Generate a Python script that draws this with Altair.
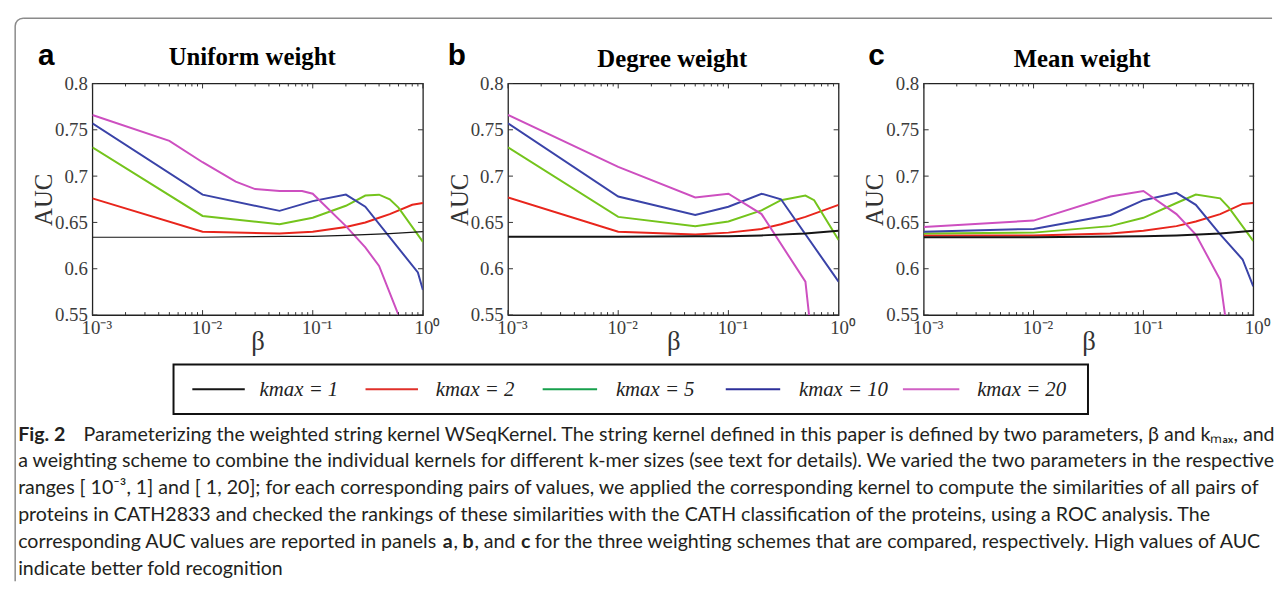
import altair as alt
import pandas as pd

SERIES = ["kmax = 1", "kmax = 2", "kmax = 5", "kmax = 10", "kmax = 20"]
LINE_COLORS = ["#151515", "#e8251c", "#74c41c", "#3a43a8", "#cd4fc0"]
LEGEND_COLORS = ["#151515", "#e0302a", "#17a04c", "#2c2f9a", "#d060c4"]

# ---- Panel a: Uniform weight ----
a_k1_beta = [0.001, 0.01, 0.05, 0.1, 0.2, 0.5, 1.0]
a_k1_auc = [0.634, 0.634, 0.635, 0.635, 0.636, 0.638, 0.640]
a_k2_beta = [0.001, 0.01, 0.05, 0.1, 0.2, 0.3, 0.4, 0.5, 0.8, 1.0]
a_k2_auc = [0.676, 0.640, 0.638, 0.640, 0.645, 0.650, 0.655, 0.659, 0.669, 0.671]
a_k5_beta = [0.001, 0.01, 0.05, 0.1, 0.2, 0.3, 0.4, 0.5, 0.6, 1.0]
a_k5_auc = [0.731, 0.657, 0.648, 0.655, 0.668, 0.679, 0.680, 0.675, 0.666, 0.629]
a_k10_beta = [0.001, 0.01, 0.05, 0.1, 0.2, 0.3, 0.9, 1.0]
a_k10_auc = [0.757, 0.680, 0.6625, 0.673, 0.680, 0.667, 0.596, 0.577]
a_k20_beta = [0.001, 0.005, 0.01, 0.02, 0.03, 0.05, 0.08, 0.1, 0.2, 0.3, 0.4, 0.7]
a_k20_auc = [0.766, 0.738, 0.715, 0.694, 0.686, 0.684, 0.684, 0.681, 0.646, 0.623, 0.603, 0.53]

# ---- Panel b: Degree weight ----
b_k1_beta = [0.001, 0.01, 0.05, 0.1, 0.2, 0.5, 1.0]
b_k1_auc = [0.6345, 0.6345, 0.635, 0.635, 0.636, 0.638, 0.641]
b_k2_beta = [0.001, 0.01, 0.05, 0.1, 0.2, 0.3, 0.5, 1.0]
b_k2_auc = [0.677, 0.640, 0.637, 0.639, 0.643, 0.648, 0.656, 0.669]
b_k5_beta = [0.001, 0.01, 0.05, 0.1, 0.2, 0.3, 0.5, 0.6, 1.0]
b_k5_auc = [0.731, 0.656, 0.646, 0.651, 0.663, 0.674, 0.679, 0.674, 0.631]
b_k10_beta = [0.001, 0.01, 0.05, 0.1, 0.2, 0.3, 1.0]
b_k10_auc = [0.757, 0.678, 0.658, 0.667, 0.681, 0.675, 0.586]
b_k20_beta = [0.001, 0.01, 0.05, 0.1, 0.2, 0.5, 0.6]
b_k20_auc = [0.766, 0.710, 0.677, 0.681, 0.659, 0.586, 0.50]

# ---- Panel c: Mean weight ----
c_k1_beta = [0.001, 0.01, 0.1, 0.2, 0.5, 1.0]
c_k1_auc = [0.634, 0.634, 0.635, 0.636, 0.638, 0.641]
c_k2_beta = [0.001, 0.01, 0.05, 0.1, 0.2, 0.3, 0.5, 0.8, 1.0]
c_k2_auc = [0.636, 0.636, 0.638, 0.641, 0.646, 0.651, 0.659, 0.670, 0.671]
c_k5_beta = [0.001, 0.01, 0.05, 0.1, 0.2, 0.3, 0.5, 0.6, 1.0]
c_k5_auc = [0.638, 0.639, 0.646, 0.655, 0.671, 0.680, 0.676, 0.666, 0.630]
c_k10_beta = [0.001, 0.01, 0.05, 0.1, 0.2, 0.3, 0.5, 0.8, 1.0]
c_k10_auc = [0.640, 0.643, 0.658, 0.674, 0.682, 0.669, 0.637, 0.610, 0.581]
c_k20_beta = [0.001, 0.01, 0.05, 0.1, 0.2, 0.3, 0.5, 0.6]
c_k20_auc = [0.645, 0.652, 0.678, 0.684, 0.659, 0.637, 0.588, 0.52]

X_MAJOR = [0.001, 0.01, 0.1, 1.0]
X_MINOR = [m * d for d in [0.001, 0.01, 0.1] for m in range(2, 10)]
Y_TICKS = [0.55, 0.6, 0.65, 0.7, 0.75, 0.8]

PANEL_TITLES = ["Uniform weight", "Degree weight", "Mean weight"]
PANEL_LETTERS = ["a", "b", "c"]

CAPTION_LINES = [
    "Parameterizing the weighted string kernel WSeqKernel. The string kernel defined in this paper is defined by two parameters, \u03b2 and k\u2098\u2090\u2093, and",
    "a weighting scheme to combine the individual kernels for different k-mer sizes (see text for details). We varied the two parameters in the respective",
    "ranges [ 10\u207b\u00b3, 1] and [ 1, 20]; for each corresponding pairs of values, we applied the corresponding kernel to compute the similarities of all pairs of",
    "proteins in CATH2833 and checked the rankings of these similarities with the CATH classification of the proteins, using a ROC analysis. The",
    "corresponding AUC values are reported in panels",
    "indicate better fold recognition",
]

W, H = 334, 234
SERIF = "Liberation Serif"
CAP_FONT = "Lato"
CAP_SIZE = 19.8
CAP_COLOR = "#231f20"
LABEL_COLOR = "#3c3c3c"


def panel_df(pairs):
    rows = []
    for s, (bs, ys) in zip(SERIES, pairs):
        for b, y in zip(bs, ys):
            rows.append({"beta": b, "auc": y, "series": s})
    return pd.DataFrame(rows)


def one():
    return pd.DataFrame({"z": [0]})


def text_layer(s, x, y, font, size, weight="normal", style="normal", align="left",
               baseline="alphabetic", color="#000000"):
    return alt.Chart(pd.DataFrame({"t": [s]})).mark_text(
        font=font, fontSize=size, fontWeight=weight, fontStyle=style, align=align,
        baseline=baseline, color=color
    ).encode(text="t:N", x=alt.value(x), y=alt.value(y))


def hrule(x1, x2, y, color, width):
    return alt.Chart(one()).mark_rule(color=color, strokeWidth=width).encode(
        x=alt.value(x1), x2=alt.value(x2), y=alt.value(y))


def vrule(x, y1, y2, color, width):
    return alt.Chart(one()).mark_rule(color=color, strokeWidth=width).encode(
        x=alt.value(x), y=alt.value(y1), y2=alt.value(y2))


xs = alt.Scale(type="log", domain=[0.001, 1], nice=False)
ys = alt.Scale(domain=[0.55, 0.8], nice=False, zero=False)
LABEL_EXPR = ("datum.value < 0.005 ? '10\u207b\u00b3' : datum.value < 0.05 ? '10\u207b\u00b2' : "
              "datum.value < 0.5 ? '10\u207b\u00b9' : '10\u2070'")
X_AXIS = alt.Axis(values=X_MAJOR, labelExpr=LABEL_EXPR, labelFlush=False,
                  labelOffset=4, labelPadding=4, titlePadding=-9,
                  labelFont=SERIF, labelFontSize=19, labelColor=LABEL_COLOR,
                  titleFont=SERIF, titleFontSize=27, titleFontWeight="normal",
                  titleColor="#333333", ticks=False, domain=False, grid=False)
Y_AXIS = alt.Axis(values=Y_TICKS, format="~g", labelPadding=5, titlePadding=-2,
                  labelFont=SERIF, labelFontSize=19, labelColor=LABEL_COLOR,
                  titleFont=SERIF, titleFontSize=25, titleFontWeight="normal",
                  titleColor="#333333", ticks=False, domain=False, grid=False)


def xenc(field):
    return alt.X(field, scale=xs, title="\u03b2", axis=X_AXIS)


def yenc(field):
    return alt.Y(field, scale=ys, title="AUC", axis=Y_AXIS)


def make_panel(df, idx, title_x, title_y, letter_x, black_width):
    colored = alt.Chart(df).transform_filter("datum.series != 'kmax = 1'").mark_line(
        clip=True, strokeWidth=2
    ).encode(
        x=xenc("beta:Q"), y=yenc("auc:Q"),
        color=alt.Color("series:N", scale=alt.Scale(domain=SERIES, range=LINE_COLORS), legend=None),
    )
    black = alt.Chart(df).transform_filter("datum.series == 'kmax = 1'").mark_line(
        clip=True, strokeWidth=black_width, color=LINE_COLORS[0]
    ).encode(x=xenc("beta:Q"), y=yenc("auc:Q"))

    layers = [colored, black]
    tick_color = "#333333"
    for vals, ln in [(X_MAJOR, 5), (X_MINOR, 3)]:
        d = pd.DataFrame({"beta": vals})
        layers.append(alt.Chart(d).mark_rule(color=tick_color, strokeWidth=1).encode(
            x=xenc("beta:Q"), y=alt.value(H), y2=alt.value(H - ln)))
        layers.append(alt.Chart(d).mark_rule(color=tick_color, strokeWidth=1).encode(
            x=xenc("beta:Q"), y=alt.value(0), y2=alt.value(ln)))
    dy = pd.DataFrame({"auc": Y_TICKS})
    layers.append(alt.Chart(dy).mark_rule(color=tick_color, strokeWidth=1).encode(
        y=yenc("auc:Q"), x=alt.value(0), x2=alt.value(5)))
    layers.append(alt.Chart(dy).mark_rule(color=tick_color, strokeWidth=1).encode(
        y=yenc("auc:Q"), x=alt.value(W), x2=alt.value(W - 5)))

    layers.append(text_layer(PANEL_TITLES[idx], title_x, title_y, SERIF, 25, weight="bold",
                             align="center"))
    layers.append(text_layer(PANEL_LETTERS[idx], letter_x, -19, "Liberation Sans", 30,
                             weight="bold"))
    return layers


df_a = panel_df([(a_k1_beta, a_k1_auc), (a_k2_beta, a_k2_auc), (a_k5_beta, a_k5_auc),
                 (a_k10_beta, a_k10_auc), (a_k20_beta, a_k20_auc)])
df_b = panel_df([(b_k1_beta, b_k1_auc), (b_k2_beta, b_k2_auc), (b_k5_beta, b_k5_auc),
                 (b_k10_beta, b_k10_auc), (b_k20_beta, b_k20_auc)])
df_c = panel_df([(c_k1_beta, c_k1_auc), (c_k2_beta, c_k2_auc), (c_k5_beta, c_k5_auc),
                 (c_k10_beta, c_k10_auc), (c_k20_beta, c_k20_auc)])

layers_a = make_panel(df_a, 0, 161.5, -19, -55, 1.2)
layers_b = make_panel(df_b, 1, 166, -17, -61, 2)
layers_c = make_panel(df_c, 2, 160, -17, -56, 2)

# ---- overlay (coordinates relative to panel a plot origin at page (90, 78)) ----
BORDER = "#8a8a8a"
overlay = []
overlay.append(vrule(-78, -58, 503, BORDER, 1.5))
overlay.append(hrule(-70, 1192, -66, BORDER, 1.5))
overlay.append(alt.Chart(one()).mark_arc(radius=8, radius2=8, theta=4.712389, theta2=6.283185,
                                          stroke=BORDER, strokeWidth=1.5, fillOpacity=0).encode(
    x=alt.value(-70), y=alt.value(-58)))

# legend box
overlay.append(alt.Chart(one()).mark_rect(fillOpacity=0, stroke="#111111", strokeWidth=2).encode(
    x=alt.value(82), x2=alt.value(1006), y=alt.value(284), y2=alt.value(334)))
LEG_LINE_X = [(101, 154), (276, 329), (455, 510), (640, 695), (819, 876)]
LEG_TEXT_X = [169, 347, 529, 714, 894]
for i, s in enumerate(SERIES):
    overlay.append(hrule(LEG_LINE_X[i][0], LEG_LINE_X[i][1], 309, LEGEND_COLORS[i], 2))
    overlay.append(text_layer(s, LEG_TEXT_X[i], 310, SERIF, 21, style="italic",
                              baseline="middle", color="#222222"))

# caption
CAP_Y = [361, 388, 415, 442, 469.5, 496.5]
overlay.append(text_layer("Fig. 2", -75, CAP_Y[0], CAP_FONT, CAP_SIZE, weight="bold", color=CAP_COLOR))
overlay.append(text_layer(CAPTION_LINES[0], -9, CAP_Y[0], CAP_FONT, CAP_SIZE, color=CAP_COLOR))
for i in [1, 2, 3, 4, 5]:
    overlay.append(text_layer(CAPTION_LINES[i], -75, CAP_Y[i], CAP_FONT, CAP_SIZE, color=CAP_COLOR))
# line 5 pieces with bold panel letters
L5 = [("a", 354, "bold"), (",", 365, "normal"), ("b", 374, "bold"), (", and", 386, "normal"),
      ("c", 433, "bold"),
      ("for the three weighting schemes that are compared, respectively. High values of AUC", 447, "normal")]
for s, x, w in L5:
    overlay.append(text_layer(s, x, CAP_Y[4], CAP_FONT, CAP_SIZE, weight=w, color=CAP_COLOR))

panel_a = alt.layer(*(layers_a + overlay)).properties(width=W, height=H)
panel_b = alt.layer(*layers_b).properties(width=W, height=H)
panel_c = alt.layer(*layers_c).properties(width=W - 1, height=H)

chart = alt.hconcat(
    panel_a, panel_b, panel_c, spacing=86, bounds="flush"
).properties(
    padding={"left": 3.25, "top": 3.25, "right": 0, "bottom": 0}
).configure_view(
    stroke="#222222", strokeWidth=1.3
)

chart.save("out.html", embed_options={"renderer": "svg", "actions": False})
